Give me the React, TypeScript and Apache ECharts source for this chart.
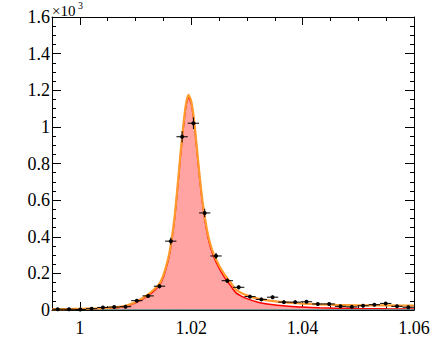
import React, { useEffect, useRef } from "react";
import * as echarts from "echarts";

// Histogram (32 bins from 0.995 to 1.06)
const binCenters = [
  0.99602, 0.99805, 1.00008, 1.00211, 1.00414, 1.00617, 1.0082, 1.01023,
  1.01227, 1.0143, 1.01633, 1.01836, 1.02039, 1.02242, 1.02445, 1.02648,
  1.02852, 1.03055, 1.03258, 1.03461, 1.03664, 1.03867, 1.0407, 1.04273,
  1.04477, 1.0468, 1.04883, 1.05086, 1.05289, 1.05492, 1.05695, 1.05898,
];
const binCounts = [
  4, 4, 3, 7, 14, 16, 18, 51,
  77, 130, 376, 946, 1020, 530, 295, 160,
  124, 73, 58, 70, 43, 43, 45, 33,
  33, 20, 17, 23, 29, 36, 20, 15,
];
const binHalfWidth = 0.0010156;

// Fit curves
const curveX = [
  0.995, 0.997, 0.999, 1.001, 1.003, 1.005, 1.007, 1.008, 1.009, 1.01,
  1.011, 1.012, 1.013, 1.014, 1.0145, 1.015, 1.0155, 1.016, 1.0165, 1.017,
  1.0175, 1.018, 1.0185, 1.019, 1.0195, 1.02, 1.0205, 1.021, 1.0215, 1.022,
  1.0225, 1.023, 1.0235, 1.024, 1.025, 1.026, 1.027, 1.028, 1.029, 1.03,
  1.032, 1.034, 1.036, 1.038, 1.04, 1.043, 1.046, 1.05, 1.055, 1.06,
];
const totalFit = [
  4, 5, 6, 7, 9, 12, 17, 22, 31, 44,
  60, 80, 104, 133, 155, 190, 240, 300, 390, 505,
  660, 830, 985, 1115, 1175, 1140, 1040, 890, 735, 600,
  495, 412, 352, 308, 243, 193, 153, 112, 93, 80,
  62, 51, 44, 39, 35, 31, 28, 26, 25, 24,
];
const signalFit = [
  3.5, 4.5, 5, 6, 7.5, 10, 14, 19, 27, 39,
  54, 73, 96, 124, 146, 180, 230, 289, 379, 494,
  648, 818, 973, 1103, 1163, 1128, 1028, 877, 722, 587,
  482, 398, 338, 294, 228, 177, 136, 95, 76, 62,
  42, 31, 24, 19, 16, 12.5, 10, 8, 6.5, 5.5,
];
const lowBgX = [0.995, 1.02, 1.04, 1.06];
const lowBg = [1.5, 2, 2, 2];

// Axes
const xMin = 0.995;
const xMax = 1.06;
const xTickLabels = [1, 1.02, 1.04, 1.06];
const yMax = 1600;
const yStep = 200;

const FONT = "Liberation Serif";

export default function App() {
  const ref = useRef<HTMLDivElement>(null);

  useEffect(() => {
    if (!ref.current) return;
    const chart = echarts.init(ref.current, null, { renderer: "svg" });

    const hist = binCenters.map((x, i) => [
      x,
      binCounts[i],
      binHalfWidth,
      Math.sqrt(binCounts[i]),
    ]);

    const baseX = {
      type: "value" as const,
      min: xMin,
      max: xMax,
      splitLine: { show: false },
    };
    const baseY = {
      type: "value" as const,
      min: 0,
      max: yMax,
      interval: yStep,
      splitLine: { show: false },
    };
    const lineStyle = { color: "#000", width: 1 };

    chart.setOption({
      animation: false,
      textStyle: { fontFamily: FONT },
      grid: { left: 52, top: 17, right: 22, bottom: 44, containLabel: false },
      xAxis: [
        {
          ...baseX,
          position: "bottom",
          interval: 0.005,
          axisLine: { show: true, lineStyle },
          axisTick: { show: true, inside: true, length: 4, lineStyle },
          axisLabel: {
            show: true,
            margin: 9,
            fontFamily: FONT,
            fontSize: 18,
            color: "#000",
            formatter: (v: number) => {
              const hit = xTickLabels.find((t) => Math.abs(t - v) < 1e-6);
              return hit === undefined ? "" : String(hit);
            },
          },
        },
        {
          ...baseX,
          position: "bottom",
          axisLine: { show: false },
          axisTick: {
            show: true,
            inside: true,
            length: 8,
            lineStyle,
            customValues: xTickLabels,
          },
          axisLabel: { show: false },
        },
        {
          ...baseX,
          position: "top",
          interval: 0.005,
          axisLine: { show: true, lineStyle },
          axisTick: { show: true, inside: true, length: 4, lineStyle },
          axisLabel: { show: false },
        },
        {
          ...baseX,
          position: "top",
          axisLine: { show: false },
          axisTick: {
            show: true,
            inside: true,
            length: 8,
            lineStyle,
            customValues: xTickLabels,
          },
          axisLabel: { show: false },
        },
      ],
      yAxis: [
        {
          ...baseY,
          position: "left",
          axisLine: { show: true, lineStyle },
          axisTick: { show: true, inside: true, length: 9, lineStyle },
          minorTick: { show: true, splitNumber: 4, length: 4, lineStyle },
          axisLabel: {
            show: true,
            margin: 2,
            fontFamily: FONT,
            fontSize: 18,
            color: "#000",
            formatter: (v: number) => String(Math.round(v / 100) / 10),
          },
        },
        {
          ...baseY,
          position: "right",
          axisLine: { show: true, lineStyle },
          axisTick: { show: true, inside: true, length: 9, lineStyle },
          minorTick: { show: true, splitNumber: 4, length: 4, lineStyle },
          axisLabel: { show: false },
        },
      ],
      graphic: [
        {
          type: "text",
          left: 52,
          top: 3,
          style: { text: "×10", fontFamily: FONT, fontSize: 15, fill: "#000" },
        },
        {
          type: "text",
          left: 78,
          top: 0,
          style: { text: "3", fontFamily: FONT, fontSize: 10, fill: "#000" },
        },
      ],
      series: [
        {
          type: "line",
          name: "signal",
          data: curveX.map((x, i) => [x, signalFit[i]]),
          showSymbol: false,
          smooth: 0.2,
          lineStyle: { color: "#ff0000", width: 1.5 },
          areaStyle: { color: "#ffa3a3", opacity: 1 },
          z: 2,
        },
        {
          type: "line",
          name: "lowbg",
          data: lowBgX.map((x, i) => [x, lowBg[i]]),
          showSymbol: false,
          lineStyle: { color: "#5f8f8f", width: 1 },
          z: 3,
        },
        {
          type: "line",
          name: "total",
          data: curveX.map((x, i) => [x, totalFit[i]]),
          showSymbol: false,
          smooth: 0.2,
          lineStyle: { color: "#ff9a2e", width: 2.2 },
          z: 4,
        },
        {
          type: "custom",
          name: "data",
          data: hist,
          encode: { x: 0, y: 1 },
          z: 10,
          renderItem: (params: any, api: any) => {
            const x = api.value(0);
            const y = api.value(1);
            const ex = api.value(2);
            const ey = api.value(3);
            const c = api.coord([x, y]);
            const l = api.coord([x - ex, y]);
            const r = api.coord([x + ex, y]);
            const t = api.coord([x, y + ey]);
            const b = api.coord([x, y - ey]);
            return {
              type: "group",
              children: [
                {
                  type: "line",
                  shape: { x1: l[0], y1: l[1], x2: r[0], y2: r[1] },
                  style: { stroke: "#000", lineWidth: 1 },
                },
                {
                  type: "line",
                  shape: { x1: t[0], y1: t[1], x2: b[0], y2: b[1] },
                  style: { stroke: "#000", lineWidth: 1 },
                },
                {
                  type: "circle",
                  shape: { cx: c[0], cy: c[1], r: 2 },
                  style: { fill: "#000" },
                },
              ],
            };
          },
        },
      ],
    });

    return () => chart.dispose();
  }, []);

  return (
    <div
      ref={ref}
      style={{ position: "fixed", left: 0, top: 0, width: 436, height: 354, background: "#fff" }}
    />
  );
}
